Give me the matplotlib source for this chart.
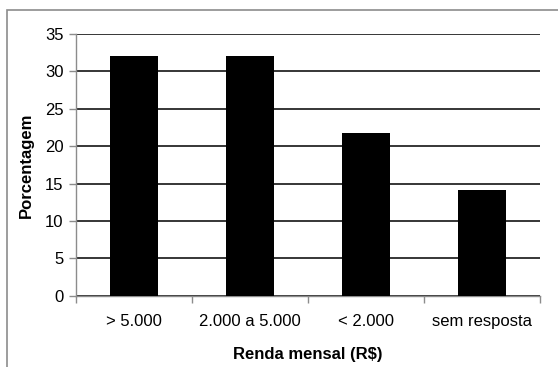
import matplotlib.pyplot as plt
from matplotlib.patches import Rectangle

plt.rcParams['font.family'] = ['Liberation Sans', 'DejaVu Sans']

# income brackets and share of respondents (%)
categorias = ['> 5.000', '2.000 a 5.000', '< 2.000', 'sem resposta']
porcentagem = [32.0, 32.0, 21.8, 14.1]

fig = plt.figure(figsize=(5.58, 3.67), dpi=100)
ax = fig.add_axes([76 / 558, 1 - 295.7 / 367, (540 - 76) / 558, (295.7 - 34) / 367])

# chart border (runs off the right and bottom edge)
fig.patches.append(Rectangle((7 / 558, -0.1), 1.2, 1 - 10 / 367 + 0.1,
                             transform=fig.transFigure, fill=False,
                             edgecolor='#8c8c8c', linewidth=1.2))

x = range(len(categorias))
ax.bar(x, porcentagem, width=0.415, color='black', zorder=3)

ax.set_xlim(-0.5, len(categorias) - 0.5)
ax.set_ylim(0, 35)
ax.set_yticks(range(0, 36, 5))
ax.yaxis.grid(True, color='black', linewidth=1.1, zorder=0)

ax.set_xticks(list(x))
ax.set_xticklabels(categorias)
ax.set_xticks([i - 0.5 for i in range(len(categorias) + 1)], minor=True)
ax.tick_params(axis='x', which='major', length=0, pad=13, labelsize=12)
ax.tick_params(axis='x', which='minor', length=5, color='#8c8c8c', width=1)
ax.tick_params(axis='y', length=5, color='#8c8c8c', width=1, labelsize=12, pad=4)

for side in ['top', 'right']:
    ax.spines[side].set_visible(False)
for side in ['left', 'bottom']:
    ax.spines[side].set_color('#8c8c8c')
    ax.spines[side].set_linewidth(1.0)

ax.set_xlabel('Renda mensal (R$)', fontsize=12, fontweight='bold', labelpad=13)
ax.set_ylabel('Porcentagem', fontsize=12, fontweight='bold', labelpad=8)

fig.savefig('out.png', dpi=100)
